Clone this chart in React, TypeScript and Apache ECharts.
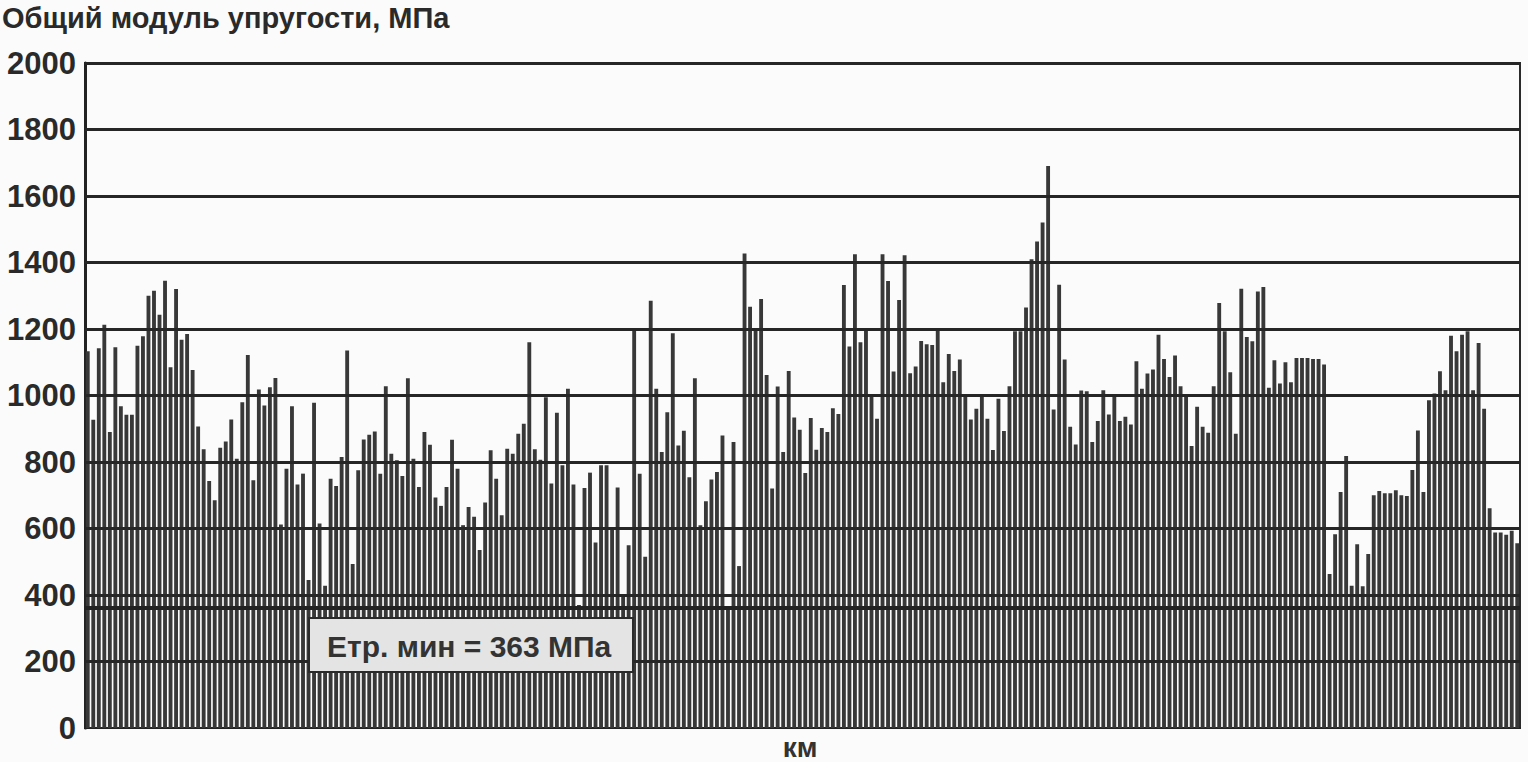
import React, { useEffect, useRef } from "react";
import * as echarts from "echarts";

const SEG_1 = [1133, 927, 1142, 1213, 890, 1145, 968, 942, 942, 1150, 1178, 1300, 1315, 1243, 1345, 1085, 1320, 1168, 1185, 1077, 907, 838, 743, 685, 843];
const SEG_2 = [862, 928, 810, 980, 1122, 745, 1018, 970, 1025, 1053, 612, 780, 968, 732, 765, 445, 978, 615, 428, 750, 728, 815, 1135, 493, 775, 868];
const SEG_3 = [882, 892, 765, 1028, 825, 805, 758, 1052, 810, 725, 890, 852, 693, 668, 725, 867, 780, 610, 665, 635, 535, 678, 835, 750, 640, 840, 825];
const SEG_4 = [885, 915, 1160, 838, 807, 995, 735, 948, 790, 1020, 732, 370, 722, 768, 558, 790, 790, 600, 723, 400, 550, 1200, 765, 515, 1285, 1020, 830];
const SEG_5 = [950, 1187, 850, 894, 754, 1052, 610, 682, 747, 770, 880, 363, 860, 487, 1427, 1267, 1200, 1290, 1062, 720, 1027, 830, 1074, 934, 897, 767, 932];
const SEG_6 = [837, 902, 890, 962, 944, 1332, 1147, 1425, 1160, 1197, 1000, 930, 1425, 1344, 1072, 1287, 1422, 1067, 1087, 1164, 1154, 1152, 1200, 1040, 1125, 1074];
const SEG_7 = [1108, 998, 928, 960, 996, 930, 836, 990, 893, 1028, 1193, 1193, 1265, 1410, 1463, 1520, 1690, 958, 1333, 1108, 906, 853, 1015, 1013, 860, 923];
const SEG_8 = [1016, 943, 998, 923, 936, 913, 1103, 1020, 1066, 1078, 1183, 1110, 1056, 1120, 1028, 996, 848, 966, 906, 888, 1028, 1278, 1193, 1070, 885, 1321, 1176];
const SEG_9 = [1163, 1313, 1326, 1023, 1106, 1036, 1100, 1040, 1113, 1113, 1113, 1110, 1110, 1093, 463, 583, 710, 818, 428, 553, 426, 523, 700, 713, 706, 706];
const SEG_10 = [715, 700, 698, 776, 895, 710, 986, 1006, 1073, 1016, 1180, 1133, 1183, 1193, 1016, 1158, 960, 661, 588, 588, 581, 593, 556];

const VALUES = [...SEG_1, ...SEG_2, ...SEG_3, ...SEG_4, ...SEG_5, ...SEG_6, ...SEG_7, ...SEG_8, ...SEG_9, ...SEG_10];
const CATEGORIES = VALUES.map((_, i) => String(i + 1));
const GRID_VALUES = [200, 400, 600, 800, 1000, 1200, 1400, 1600, 1800, 2000];
const MIN_VALUE = 363;
const MIN_LABEL = "Етр. мин = 363 МПа";
const TITLE = "Общий модуль упругости, МПа";
const X_NAME = "км";

const FONT = "'Liberation Sans', Arial, Helvetica, sans-serif";

export default function App() {
  const ref = useRef<HTMLDivElement>(null);
  useEffect(() => {
    const chart = echarts.init(ref.current!, null, { renderer: "svg" });
    chart.setOption({
      animation: false,
      backgroundColor: "#fbfbfb",
      textStyle: { fontFamily: FONT },
      grid: {
        left: 85, right: 8, top: 63, bottom: 34,
        outerBoundsMode: "none",
        containLabel: false,
        show: true, borderColor: "#2a2a2a", borderWidth: 2, backgroundColor: "transparent",
      },
      xAxis: {
        type: "category",
        data: CATEGORIES,
        axisTick: { show: false },
        axisLabel: { show: false },
        axisLine: { lineStyle: { color: "#222", width: 2 } },
      },
      yAxis: {
        type: "value",
        min: 0,
        max: 2000,
        interval: 200,
        axisLine: { show: true, lineStyle: { color: "#222", width: 3 } },
        axisTick: { show: false },
        splitLine: { show: false },
        axisLabel: {
          fontSize: 31, fontWeight: "bold", color: "#2a2a2a", margin: 9, fontFamily: FONT,
          formatter: (v: number) => String(v),
        },
      },
      series: [
        {
          type: "bar",
          data: VALUES,
          barCategoryGap: "30%",
          itemStyle: { color: "#383838" },
          markLine: {
            silent: true,
            symbol: "none",
            label: { show: false },
            lineStyle: { color: "#262626", width: 3, type: "solid" },
            data: [
              ...GRID_VALUES.map((v) => ({ yAxis: v })),
              { yAxis: MIN_VALUE, lineStyle: { width: 4, color: "#222", type: "solid" } },
            ],
          },
        },
      ],
      graphic: [
        {
          type: "text",
          left: 2,
          top: 3,
          z: 100,
          style: { text: TITLE, font: `bold 29px ${FONT}`, fill: "#2a2a2a" },
        },
        {
          type: "text",
          x: 800,
          y: 747,
          z: 100,
          style: { text: X_NAME, font: `bold 28px ${FONT}`, fill: "#333", align: "center", verticalAlign: "middle" },
        },
        {
          type: "group",
          left: 308,
          top: 617,
          z: 100,
          children: [
            { type: "rect", z: 100, shape: { x: 0, y: 0, width: 324, height: 54 }, style: { fill: "#e4e4e4", stroke: "#2a2a2a", lineWidth: 2 } },
            { type: "text", z: 101, x: 18, y: 28, style: { text: MIN_LABEL, font: `bold 30px ${FONT}`, fill: "#333", verticalAlign: "middle" } },
          ],
        },
      ],
    });
    return () => chart.dispose();
  }, []);
  return <div ref={ref} style={{ position: "fixed", left: 0, top: 0, width: 1528, height: 762 }} />;
}
